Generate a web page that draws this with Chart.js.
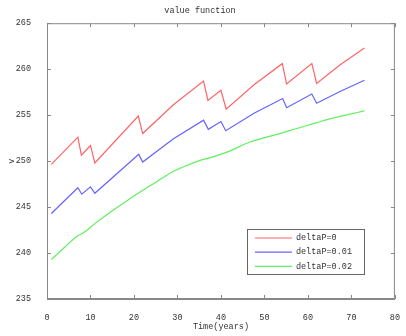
<!DOCTYPE html>
<html>
<head>
<meta charset="utf-8">
<script src="https://cdn.jsdelivr.net/npm/chart.js@4/dist/chart.umd.min.js"></script>
<style>
  html, body { margin: 0; padding: 0; background: #fff; }
  #wrap { width: 406px; height: 336px; }
</style>
</head>
<body>
<div id="wrap"><canvas id="c" width="406" height="336"></canvas></div>
<script>
// values (x in years, y = value)
const seriesLabels = ['deltaP=0', 'deltaP=0.01', 'deltaP=0.02'];

const redYears  = [1, 7.1, 7.9, 10, 11, 21, 22, 29, 36, 37, 40, 41.2, 47.6, 54.1, 55.1, 60.9, 62, 67.5, 73];
const redValues = [249.65, 252.6, 250.65, 251.7, 249.8, 254.9, 253.0, 256.1, 258.7, 256.6, 257.7, 255.65, 258.3, 260.6, 258.4, 260.6, 258.45, 260.5, 262.3];

const blueYears  = [1, 7.1, 8, 10, 11, 21.1, 22, 29, 36, 37.1, 40, 41.1, 47.6, 54.2, 55.1, 60.9, 62, 67.5, 73];
const blueValues = [244.3, 247.1, 246.4, 247.2, 246.5, 250.75, 249.9, 252.4, 254.45, 253.45, 254.3, 253.3, 255.2, 256.8, 255.8, 257.3, 256.3, 257.6, 258.8];

const greenYears  = [1, 4, 7, 8.2, 11, 14.7, 18.4, 21.5, 25.2, 28.9, 32, 35.4, 37, 41.5, 46.8, 50.5, 54.3, 57.4, 61.9, 65, 68.7, 73];
const greenValues = [239.3, 240.6, 241.85, 242.15, 243.2, 244.5, 245.7, 246.66, 247.75, 248.84, 249.5, 250.1, 250.3, 251.0, 252.1, 252.6, 253.1, 253.55, 254.16, 254.6, 255.0, 255.47];

const xTicks = [0, 10, 20, 30, 40, 50, 60, 70, 80];
const yTicks = [235, 240, 245, 250, 255, 260, 265];

const colors = ['#ff6464', '#6464ff', '#5ef05e'];
const FONT = "'Liberation Mono', 'DejaVu Sans Mono', monospace";
const AXIS = '#888';

function pts(xs, ys){ return xs.map((x, i) => ({ x: x, y: ys[i] })); }

// inward tick marks on all four sides + closed frame
const framePlugin = {
  id: 'frame',
  afterDraw(chart){
    const { ctx, chartArea: a, scales: { x, y } } = chart;
    ctx.save();
    ctx.strokeStyle = AXIS;
    ctx.lineWidth = 1;
    ctx.strokeRect(a.left + 0.5, a.top + 0.5, a.right - a.left - 1, a.bottom - a.top - 1);
    ctx.beginPath();
    xTicks.forEach(v => {
      const px = Math.round(x.getPixelForValue(v)) + 0.5;
      ctx.moveTo(px, a.bottom); ctx.lineTo(px, a.bottom - 4);
      ctx.moveTo(px, a.top);    ctx.lineTo(px, a.top + 4);
    });
    yTicks.forEach(v => {
      const py = Math.round(y.getPixelForValue(v)) + 0.5;
      ctx.moveTo(a.left, py);  ctx.lineTo(a.left + 4, py);
      ctx.moveTo(a.right, py); ctx.lineTo(a.right - 4, py);
    });
    ctx.stroke();
    ctx.restore();
  }
};

// legend box inside the plot, lower right
const legendPlugin = {
  id: 'boxLegend',
  afterDraw(chart){
    const { ctx, chartArea: a } = chart;
    const w = 117, h = 45;
    const bx = a.right - 31 - w, by = a.bottom - 25 - h;
    ctx.save();
    ctx.fillStyle = '#fff';
    ctx.fillRect(bx, by, w, h);
    ctx.strokeStyle = '#666';
    ctx.lineWidth = 1;
    ctx.strokeRect(Math.round(bx) + 0.5, Math.round(by) + 0.5, w, h);
    ctx.font = '8.5px ' + FONT;
    ctx.textBaseline = 'middle';
    chart.data.datasets.forEach((ds, i) => {
      const ry = by + 9 + i * 14.2;
      ctx.strokeStyle = ds.borderColor;
      ctx.lineWidth = 1.2;
      ctx.beginPath();
      ctx.moveTo(bx + 8, ry); ctx.lineTo(bx + 45, ry);
      ctx.stroke();
      ctx.fillStyle = '#333';
      ctx.fillText(ds.label, bx + 49, ry);
    });
    ctx.restore();
  }
};

new Chart(document.getElementById('c'), {
  type: 'line',
  data: {
    datasets: [
      { label: seriesLabels[0], data: pts(redYears, redValues), tension: 0 },
      { label: seriesLabels[1], data: pts(blueYears, blueValues), tension: 0 },
      { label: seriesLabels[2], data: pts(greenYears, greenValues), cubicInterpolationMode: 'monotone' }
    ].map((d, i) => Object.assign(d, {
      borderColor: colors[i], borderWidth: 1.2, pointRadius: 0, fill: false
    }))
  },
  options: {
    responsive: false, animation: false,
    layout: { padding: { left: 0, right: 6, top: 0, bottom: 0 } },
    plugins: {
      legend: { display: false },
      tooltip: { enabled: false },
      title: {
        display: true, text: 'value function', color: '#333',
        font: { family: FONT, size: 8.5, weight: 'normal', lineHeight: 1.2 },
        padding: { top: 6, bottom: 7 }
      }
    },
    scales: {
      x: {
        type: 'linear', min: 0, max: 80,
        afterBuildTicks: s => { s.ticks = xTicks.map(v => ({ value: v })); },
        afterFit: s => { s.height = 37; },
        grid: { display: false },
        border: { display: true, color: AXIS },
        ticks: { color: '#333', padding: 6, maxRotation: 0, font: { family: FONT, size: 8.5 } },
        title: { display: true, text: 'Time(years)', color: '#333', padding: { top: 0, bottom: 4 },
                 font: { family: FONT, size: 8.5 } }
      },
      y: {
        min: 235, max: 265,
        afterBuildTicks: s => { s.ticks = yTicks.map(v => ({ value: v })); },
        afterFit: s => { s.width = 47; },
        grid: { display: false },
        border: { display: true, color: AXIS },
        ticks: { color: '#333', padding: 8, font: { family: FONT, size: 8.5 } },
        title: { display: true, text: 'v', color: '#333', padding: { top: 7, bottom: 0 },
                 font: { family: FONT, size: 8.5 } }
      }
    }
  },
  plugins: [framePlugin, legendPlugin]
});
</script>
</body>
</html>
